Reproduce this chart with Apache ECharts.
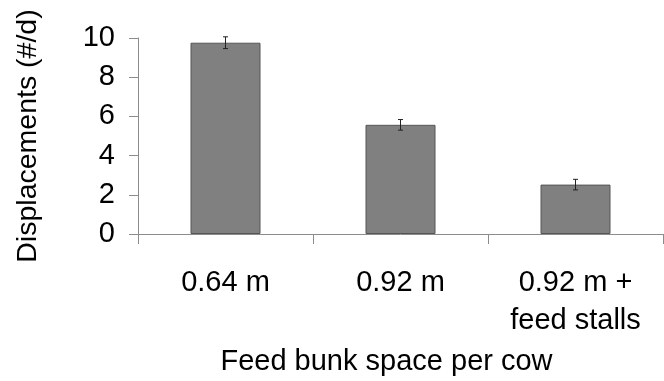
<!DOCTYPE html>
<html>
<head>
<meta charset="utf-8">
<script src="https://cdn.jsdelivr.net/npm/echarts@6/dist/echarts.min.js"></script>
<style>
html,body{margin:0;padding:0;background:#fff;}
#c{width:664px;height:381px;}
</style>
</head>
<body>
<div id="c"></div>
<script>
var categories = ['0.64 m', '0.92 m', '0.92 m +\nfeed stalls'];
var displacements = [9.76, 5.57, 2.52];
var errors = [0.30, 0.27, 0.27];
var yTicks = [0, 2, 4, 6, 8, 10];

var FONT = '"Liberation Sans", Arial, sans-serif';
var chart = echarts.init(document.getElementById('c'), null, {renderer: 'canvas'});

var errData = categories.map(function (c, i) {
  return [i, displacements[i] - errors[i], displacements[i] + errors[i]];
});

chart.setOption({
  animation: false,
  backgroundColor: '#ffffff',
  grid: {left: 138, right: 1, top: 38, bottom: 141, containLabel: false},
  xAxis: {
    type: 'category',
    data: categories,
    boundaryGap: true,
    name: 'Feed bunk space per cow',
    nameLocation: 'middle',
    nameGap: 113,
    nameTextStyle: {fontFamily: FONT, fontSize: 29, color: '#000', padding: [0, 28, 0, 0]},
    axisLine: {lineStyle: {color: '#8c8c8c', width: 1}},
    axisTick: {show: true, length: 10, alignWithLabel: false, lineStyle: {color: '#8c8c8c'}},
    axisLabel: {fontFamily: FONT, fontSize: 29, color: '#000', margin: 30, lineHeight: 38, interval: 0}
  },
  yAxis: {
    type: 'value',
    min: yTicks[0],
    max: yTicks[yTicks.length - 1],
    interval: 2,
    name: 'Displacements (#/d)',
    nameLocation: 'middle',
    nameGap: 95,
    nameTextStyle: {fontFamily: FONT, fontSize: 28.5, color: '#000'},
    axisLine: {show: true, lineStyle: {color: '#8c8c8c', width: 1}},
    axisTick: {show: true, length: 9, inside: false, lineStyle: {color: '#8c8c8c'}},
    axisLabel: {fontFamily: FONT, fontSize: 29, color: '#000', margin: 23, padding: [5, 0, 0, 0]},
    splitLine: {show: false}
  },
  series: [
    {
      type: 'bar',
      data: displacements,
      barWidth: 70,
      itemStyle: {color: '#808080', borderColor: '#555555', borderWidth: 1}
    },
    {
      type: 'custom',
      data: errData,
      z: 10,
      renderItem: function (params, api) {
        var x = api.value(0);
        var lo = api.coord([x, api.value(1)]);
        var hi = api.coord([x, api.value(2)]);
        var hw = 2.5;
        var st = {stroke: '#222', lineWidth: 1, fill: null};
        return {
          type: 'group',
          children: [
            {type: 'line', shape: {x1: lo[0], y1: lo[1], x2: hi[0], y2: hi[1]}, style: st},
            {type: 'line', shape: {x1: hi[0] - hw, y1: hi[1], x2: hi[0] + hw, y2: hi[1]}, style: st},
            {type: 'line', shape: {x1: lo[0] - hw, y1: lo[1], x2: lo[0] + hw, y2: lo[1]}, style: st}
          ]
        };
      }
    }
  ]
});
</script>
</body>
</html>
